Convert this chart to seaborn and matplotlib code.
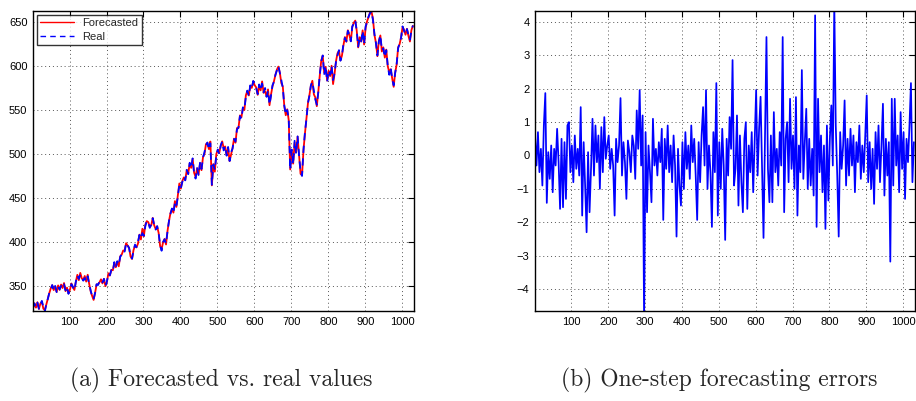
import numpy as np
import pandas as pd
import matplotlib
matplotlib.use("Agg")
import matplotlib.pyplot as plt
import seaborn as sns

# Real series, sampled every 4 steps starting at t=1
real = [
    325, 330, 326, 331, 324, 329, 333, 326, 321, 329,
    335, 342, 346, 351, 345, 350, 343, 349, 346, 350,
    348, 352, 345, 349, 341, 346, 352, 349, 345, 355,
    362, 358, 363, 359, 356, 359, 355, 361, 352, 345,
    338, 335, 342, 352, 351, 355, 357, 354, 358, 350,
    355, 364, 362, 368, 366, 377, 371, 378, 374, 383,
    386, 390, 389, 399, 396, 393, 384, 381, 390, 397,
    394, 400, 408, 404, 410, 407, 418, 424, 422, 416,
    420, 427, 419, 414, 418, 410, 396, 390, 400, 403,
    398, 412, 424, 432, 438, 433, 444, 440, 452, 465,
    461, 468, 474, 470, 482, 477, 490, 484, 495, 478,
    472, 484, 476, 490, 483, 496, 502, 510, 513, 505,
    512, 465, 488, 482, 498, 505, 500, 510, 514, 504,
    509, 498, 508, 492, 502, 506, 517, 514, 528, 530,
    543, 540, 553, 551, 565, 572, 566, 578, 574, 583,
    580, 575, 568, 579, 572, 580, 570, 575, 565, 572,
    556, 566, 578, 582, 590, 595, 600, 592, 584, 575,
    555, 545, 550, 540, 482, 505, 488, 515, 500, 520,
    498, 480, 475, 505, 525, 540, 558, 566, 578, 582,
    572, 562, 556, 570, 590, 605, 612, 590, 600, 582,
    595, 590, 600, 584, 592, 605, 612, 618, 606, 612,
    625, 632, 628, 640, 636, 628, 645, 648, 652, 640,
    622, 632, 628, 640, 625, 645, 650, 656, 660, 662,
    652, 636, 626, 612, 628, 635, 618, 620, 610, 618,
    600, 590, 598, 585, 578, 592, 602, 620, 626, 632,
    645, 640, 636, 642, 635, 630, 640, 646,
]

# One-step forecasting errors (real - forecasted), same sampling
errors = [
    0.6, -0.3, 0.7, -0.5, 0.2, -0.9, 0.9, 1.87, -1.42, 0.1,
    -0.7, 0.3, -1.1, 0.2, -0.3, 0.8, -0.2, -1.6, 0.5, -1.55,
    0.4, -1.3, 0.9, 1.0, -0.5, 0.3, -0.8, 0.6, -0.4, 0.2,
    -0.6, 1.45, -1.8, 0.4, -0.9, -2.3, 0.1, -1.7, -0.4, 1.1,
    -0.6, 0.9, -0.2, 0.6, -1.0, 0.85, -0.5, 1.15, -0.1, 0.3,
    0.6, -0.4, 0.2, -0.3, -1.8, 0.5, -0.2, 0.3, 1.72, -0.6,
    0.4, -0.2, -1.3, 0.45, 0.1, -0.5, 0.6, 0.3, -0.7, 1.35,
    0.2, 1.96, -0.3, 1.2, -5.0, 0.7, -1.7, 0.3, -0.5, -1.4,
    1.1, -0.3, 0.2, -0.6, 0.4, -0.2, 0.8, -1.93, 0.5, -0.4,
    0.9, -0.5, 0.3, -0.8, 0.6, -0.3, -2.43, 0.2, -0.9, -1.5,
    0.4, -1.0, 0.7, -0.4, 0.3, -0.7, 0.9, -0.2, 0.5, -0.6,
    -1.93, 0.4, -0.8, 0.6, 1.45, -0.3, 1.96, -1.0, 0.3, -0.5,
    -2.14, 0.7, -0.5, 2.17, -1.8, 0.4, -1.0, 0.8, -0.3, -2.53,
    0.5, -0.6, 1.15, 0.2, 2.86, -0.9, -0.4, 1.2, -1.5, 0.6,
    -0.8, -1.7, 0.5, 1.0, -1.6, 0.3, -0.5, 0.7, -1.1, 0.4,
    1.96, -0.6, 0.8, 1.76, -0.3, -2.47, 0.5, 3.55, -0.4, -1.4,
    0.6, -1.4, 1.3, -0.5, 0.2, -0.9, 0.7, -0.3, 3.55, -1.7,
    0.5, 1.0, -0.8, 1.7, -0.4, 0.6, -1.0, 1.75, -1.8, 0.3,
    -0.5, 2.56, -0.7, 0.4, 1.4, -1.0, 0.5, -0.9, 0.2, -1.2,
    4.2, -2.14, 1.7, -0.5, 0.6, -1.1, 0.3, -2.2, 0.9, -1.35,
    0.5, 1.5, -0.3, 4.6, 0.9, -0.6, -2.43, 0.7, -0.4, 0.3,
    1.65, -0.9, 0.5, -0.6, 0.8, -0.3, 0.6, -1.1, 0.4, -0.2,
    0.9, -0.7, 0.3, -0.5, 0.6, 1.8, -0.8, 0.4, -1.0, 0.2,
    -1.45, 0.7, -0.4, 0.9, -0.8, 0.3, 1.55, -1.2, 0.5, -0.6,
    0.4, -3.18, 1.7, -0.9, 1.7, -0.3, 0.6, -1.1, 1.3, -0.4,
    0.7, -1.3, 0.5, -0.2, 0.9, 2.17, -0.8, 0.4,
]

left_yticks = [350, 400, 450, 500, 550, 600, 650]
right_yticks = [-4, -3, -2, -1, 0, 1, 2, 3, 4]
xticks = [100, 200, 300, 400, 500, 600, 700, 800, 900, 1000]
captions = ["(a) Forecasted vs. real values", "(b) One-step forecasting errors"]

n = min(len(real), len(errors))
t = 1 + 4 * np.arange(n)
real_a = np.array(real[:n], dtype=float)
err_a = np.array(errors[:n], dtype=float)
df = pd.DataFrame({"t": t, "Real": real_a, "Forecasted": real_a - err_a, "Error": err_a})

sns.set_style("white")
plt.rcParams["font.family"] = ["Liberation Sans", "DejaVu Sans"]
plt.rcParams["axes.unicode_minus"] = True

fig = plt.figure(figsize=(9.16, 4.01), dpi=100)
W, H = 916, 401
ax1 = fig.add_axes([33 / W, 1 - 311 / H, 381 / W, 300 / H])
ax2 = fig.add_axes([535 / W, 1 - 311 / H, 380 / W, 300 / H])

sns.lineplot(data=df, x="t", y="Forecasted", ax=ax1, color="#ff0000", lw=1.3,
             label="Forecasted", estimator=None)
sns.lineplot(data=df, x="t", y="Real", ax=ax1, color="#0000ff", lw=1.3,
             label="Real", estimator=None, linestyle=(0, (4, 3)))
sns.lineplot(data=df, x="t", y="Error", ax=ax2, color="#0000ff", lw=1.25,
             estimator=None, legend=False)

ax1.set_xlim(1, 1032)
ax1.set_ylim(321.5, 662.5)
ax1.set_yticks(left_yticks)
ax2.set_xlim(1, 1032)
ax2.set_ylim(-4.66, 4.33)
ax2.set_yticks(right_yticks)

for ax in (ax1, ax2):
    ax.set_xticks(xticks)
    ax.set_xlabel("")
    ax.set_ylabel("")
    ax.grid(True, linestyle=(0, (1, 3)), color="#555555", linewidth=0.7)
    ax.tick_params(direction="in", length=4, width=0.8, top=True, right=True,
                   labelsize=8, colors="black", pad=4)
    for s in ax.spines.values():
        s.set_visible(True)
        s.set_color("black")
        s.set_linewidth(1.0)

leg = ax1.legend(loc="upper left", fontsize=8, frameon=True, fancybox=False,
                 edgecolor="black", borderpad=0.3, labelspacing=0.3,
                 handlelength=3.0, borderaxespad=0.35)
leg.get_frame().set_linewidth(1.0)
for h in leg.get_lines():
    h.set_linewidth(1.0)

fig.text(221 / W, 1 - 380 / H, captions[0], ha="center", va="center",
         fontsize=17, family=["cmr10", "DejaVu Serif"])
fig.text(719 / W, 1 - 380 / H, captions[1], ha="center", va="center",
         fontsize=17, family=["cmr10", "DejaVu Serif"])

fig.savefig("out.png", dpi=100, facecolor="white")
